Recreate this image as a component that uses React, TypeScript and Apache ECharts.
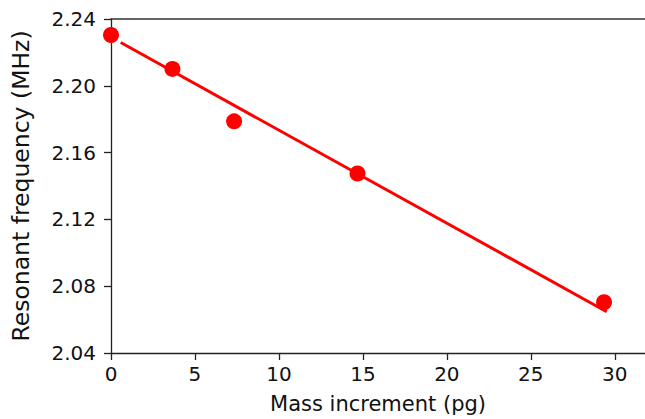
import React, { useEffect, useRef } from "react";
import * as echarts from "echarts";

const massIncrement = [0, 3.66, 7.33, 14.68, 29.36];
const resonantFrequency = [2.2304, 2.2101, 2.1787, 2.1475, 2.0704];
const fitX = [0.58, 29.52];
const fitY = [2.2259, 2.0647];
const xTicks = [0, 5, 10, 15, 20, 25, 30];
const yTicks = [2.04, 2.08, 2.12, 2.16, 2.2, 2.24];

const FONT = "DejaVu Sans";

export default function App() {
  const ref = useRef<HTMLDivElement>(null);
  useEffect(() => {
    if (!ref.current) return;
    const chart = echarts.init(ref.current, null, { renderer: "svg" });
    const axisLineStyle = { color: "#222", width: 1.3 };
    chart.setOption({
      animation: false,
      backgroundColor: "#fff",
      grid: { left: 111, right: 0, top: 19, bottom: 65, containLabel: false },
      xAxis: [
        {
          type: "value",
          min: xTicks[0],
          max: 31.8,
          interval: 5,
          name: "Mass increment (pg)",
          nameLocation: "middle",
          nameGap: 40,
          nameTextStyle: { fontFamily: FONT, fontSize: 21, color: "#111" },
          axisLine: { show: true, lineStyle: axisLineStyle },
          axisTick: { show: true, length: 7, lineStyle: axisLineStyle },
          axisLabel: {
            showMaxLabel: false,
            margin: 11,
            fontFamily: FONT,
            fontSize: 20,
            color: "#111",
            formatter: (v: number) => (xTicks.includes(v) ? String(v) : ""),
          },
          splitLine: { show: false },
        },
        {
          type: "value",
          position: "top",
          min: 0,
          max: 31.8,
          axisLine: { show: true, lineStyle: { color: "#333", width: 1.6 } },
          axisTick: { show: false },
          axisLabel: { show: false },
          splitLine: { show: false },
        },
      ],
      yAxis: {
        type: "value",
        min: yTicks[0],
        max: yTicks[yTicks.length - 1],
        interval: 0.04,
        name: "Resonant frequency (MHz)",
        nameLocation: "middle",
        nameRotate: 90,
        nameGap: 78,
        nameTextStyle: { fontFamily: FONT, fontSize: 23.5, color: "#111" },
        axisLine: { show: true, lineStyle: axisLineStyle },
        axisTick: { show: true, length: 7, lineStyle: axisLineStyle },
        axisLabel: {
          margin: 15,
          fontFamily: FONT,
          fontSize: 20,
          color: "#111",
          formatter: (v: number) => v.toFixed(2),
        },
        splitLine: { show: false },
      },
      series: [
        {
          type: "line",
          data: fitX.map((x, i) => [x, fitY[i]]),
          showSymbol: false,
          symbol: "none",
          lineStyle: { color: "#ff0000", width: 3 },
          z: 2,
        },
        {
          type: "scatter",
          data: massIncrement.map((x, i) => [x, resonantFrequency[i]]),
          symbol: "circle",
          symbolSize: 16,
          itemStyle: { color: "#ff0000", opacity: 1 },
          z: 3,
        },
      ],
    });
    return () => chart.dispose();
  }, []);
  return (
    <div
      ref={ref}
      style={{ position: "fixed", left: 0, top: 0, width: 645, height: 419 }}
    />
  );
}
